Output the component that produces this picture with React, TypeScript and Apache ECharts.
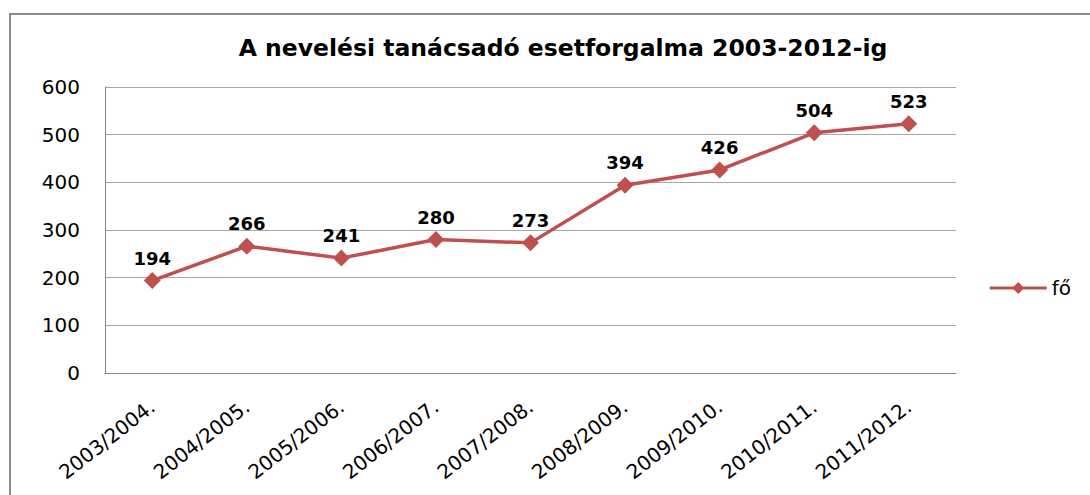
import React, { useEffect, useRef } from "react";
import * as echarts from "echarts";

const categories = [
  "2003/2004.",
  "2004/2005.",
  "2005/2006.",
  "2006/2007.",
  "2007/2008.",
  "2008/2009.",
  "2009/2010.",
  "2010/2011.",
  "2011/2012.",
];
const values = [194, 266, 241, 280, 273, 394, 426, 504, 523];
const seriesName = "fő";
const titleText = "A nevelési tanácsadó esetforgalma 2003-2012-ig";

const FONT = "'DejaVu Sans', 'Open Sans', sans-serif";

export default function App() {
  const ref = useRef<HTMLDivElement>(null);
  useEffect(() => {
    if (!ref.current) return;
    const chart = echarts.init(ref.current, null, { renderer: "svg" });
    chart.setOption({
      animation: false,
      backgroundColor: "#ffffff",
      title: {
        text: titleText,
        left: 558,
        textAlign: "center",
        top: 31,
        textStyle: { fontFamily: FONT, fontSize: 23.5, fontWeight: "bold", color: "#000" },
      },
      graphic: [
        {
          type: "rect",
          shape: { x: 10, y: 14, width: 1100, height: 500 },
          style: { fill: "none", stroke: "#8a8a8a", lineWidth: 2 },
          silent: true,
        },
      ],
      legend: {
        data: [seriesName],
        right: 14,
        top: 273,
        orient: "vertical",
        itemWidth: 57,
        itemHeight: 15,
        itemGap: 5,
        lineStyle: { width: 3 },
        textStyle: { fontFamily: FONT, fontSize: 20, color: "#000" },
      },
      grid: { left: 105, right: 134, top: 87, bottom: 122, containLabel: false },
      xAxis: {
        type: "category",
        data: categories,
        boundaryGap: true,
        axisLine: { lineStyle: { color: "#868686", width: 1 } },
        axisTick: { show: false },
        axisLabel: {
          rotate: 38,
          margin: 31,
          fontFamily: FONT,
          fontSize: 20,
          color: "#000",
        },
      },
      yAxis: {
        type: "value",
        min: 0,
        max: 600,
        interval: 100,
        axisLine: { show: true, lineStyle: { color: "#868686", width: 1 } },
        axisTick: { show: false },
        splitLine: { lineStyle: { color: "#a6a6a6", width: 1 } },
        axisLabel: {
          margin: 25,
          fontFamily: FONT,
          fontSize: 20,
          color: "#000",
        },
      },
      series: [
        {
          name: seriesName,
          type: "line",
          data: values,
          symbol: "diamond",
          symbolSize: 17,
          lineStyle: { color: "#c0504d", width: 3.5 },
          itemStyle: { color: "#c0504d" },
          label: {
            show: true,
            position: "top",
            distance: 5,
            fontFamily: FONT,
            fontSize: 18,
            fontWeight: "bold",
            color: "#000",
          },
        },
      ],
    });
    return () => chart.dispose();
  }, []);
  return (
    <div
      ref={ref}
      style={{ position: "fixed", left: 0, top: 0, width: 1090, height: 495 }}
    />
  );
}
